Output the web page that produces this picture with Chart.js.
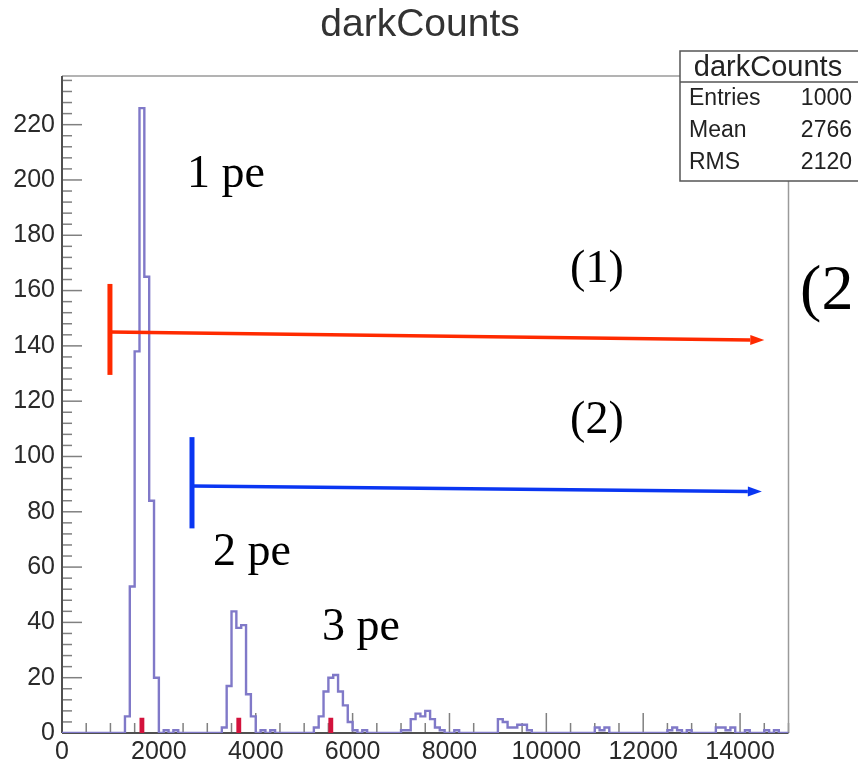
<!DOCTYPE html>
<html>
<head>
<meta charset="utf-8">
<title>darkCounts</title>
<script src="https://cdn.jsdelivr.net/npm/chart.js@4.4.1/dist/chart.umd.min.js"></script>
<style>
  html, body { margin: 0; padding: 0; background: #fff; }
  #wrap { width: 858px; height: 762px; }
</style>
</head>
<body>
<div id="wrap"><canvas id="grafico"></canvas></div>
<script>
// Histograma darkCounts: bins de 100 entre 0 y 15000
const binWidth = 100;
const xMin = 0, xMax = 15000;
const yMax = 237.6;

// Bins no vacíos (borde inferior) y sus cuentas
const binLow = [
  1300, 1400, 1500, 1600, 1700, 1800, 1900, 2100, 2300,
  3300, 3400, 3500, 3600, 3700, 3800, 3900, 4100, 4300,
  5200, 5300, 5400, 5500, 5600, 5700, 5800, 5900, 6000, 6200,
  7000, 7100, 7200, 7300, 7400, 7500, 7600, 7700, 7800, 8100,
  9000, 9100, 9200, 9300, 9400, 9500, 9600,
  11000, 11100, 11200, 12500, 12600, 12700, 12900,
  13500, 13600, 13700, 13800, 14100, 14500, 14700
];
const binCount = [
  6, 53, 138, 226, 165, 84, 20, 1, 1,
  2, 17, 44, 38, 39, 14, 6, 1, 1,
  2, 6, 15, 20, 21, 15, 10, 4, 1, 1,
  1, 1, 5, 7, 6, 8, 5, 2, 1, 1,
  5, 4, 2, 2, 3, 3, 1,
  2, 1, 2, 1, 2, 1, 1,
  2, 2, 1, 2, 1, 1, 1
];

// Marcas rojas (histograma relleno)
const redLow = [1600, 3600, 5500];
const redCount = [5.5, 5.5, 5.5];

// Etiquetas de los ejes
const xTicks = [0, 2000, 4000, 6000, 8000, 10000, 12000, 14000];
const yTicks = [0, 20, 40, 60, 80, 100, 120, 140, 160, 180, 200, 220];
const xMinorStep = 500;
const yMinorStep = 4;

// Caja de estadísticas
const statsTitle = "darkCounts";
const statsLabels = ["Entries", "Mean", "RMS"];
const statsValues = ["1000", "2766", "2120"];

// Anotaciones (en unidades de datos)
const textNotes = [
  { text: "1 pe", x: 2580, y: 197.5, size: 46 },
  { text: "(1)",  x: 10490, y: 163,  size: 46 },
  { text: "(2)",  x: 10490, y: 108.5, size: 46 },
  { text: "2 pe", x: 3120, y: 60.8,  size: 46 },
  { text: "3 pe", x: 5370, y: 33.6,  size: 46 },
  { text: "(2",   x: 15240, y: 153.5, size: 64 }
];
const arrowNotes = [
  { color: "#ff2a00", barX: 990,  barLo: 129.5, barHi: 162.4, yStart: 145,  xEnd: 14500, yEnd: 142.1 },
  { color: "#0a36f2", barX: 2684, barLo: 74,    barHi: 107,   yStart: 89.3, xEnd: 14450, yEnd: 87.3 }
];

// Construye los puntos del contorno escalonado
function histPoints(lows, counts) {
  const nBins = Math.round((xMax - xMin) / binWidth);
  const full = new Array(nBins).fill(0);
  lows.forEach((l, i) => { full[Math.round((l - xMin) / binWidth)] = counts[i]; });
  const pts = full.map((c, i) => ({ x: xMin + i * binWidth, y: c }));
  pts.push({ x: xMax, y: 0 });
  return pts;
}

function line(ctx, x0, y0, x1, y1) {
  ctx.beginPath(); ctx.moveTo(x0, y0); ctx.lineTo(x1, y1); ctx.stroke();
}

// Ejes al estilo ROOT: marcas hacia dentro y marco
const rootFrame = {
  id: "rootFrame",
  beforeDatasetsDraw(chart) {
    const { ctx, chartArea: a, scales: { x, y } } = chart;
    ctx.save();
    ctx.strokeStyle = "#808080";
    ctx.lineWidth = 1.5;
    for (let v = xMin; v <= xMax; v += xMinorStep) {
      const px = x.getPixelForValue(v);
      const len = v % 2000 === 0 ? 20 : 10;
      line(ctx, px, a.bottom, px, a.bottom - len);
    }
    for (let v = 0; v <= yMax; v += yMinorStep) {
      const py = y.getPixelForValue(v);
      const len = v % 20 === 0 ? 20 : 10;
      line(ctx, a.left, py, a.left + len, py);
    }
    ctx.strokeStyle = "#9a9a9a";
    ctx.lineWidth = 1.5;
    line(ctx, a.left, a.top, a.right, a.top);
    line(ctx, a.right, a.top, a.right, a.bottom);
    ctx.strokeStyle = "#505050";
    ctx.lineWidth = 2;
    line(ctx, a.left, a.top, a.left, a.bottom);
    line(ctx, a.left, a.bottom, a.right, a.bottom);
    ctx.restore();
  },
  afterDraw(chart) {
    const { ctx, scales: { x, y } } = chart;
    ctx.save();

    // Título
    ctx.fillStyle = "#333";
    ctx.font = '39px "Liberation Sans"';
    ctx.textAlign = "center";
    ctx.textBaseline = "alphabetic";
    ctx.fillText("darkCounts", 420, 36);

    // Flechas
    arrowNotes.forEach(n => {
      const bx = x.getPixelForValue(n.barX);
      const x1 = x.getPixelForValue(n.xEnd);
      const y0 = y.getPixelForValue(n.yStart);
      const y1 = y.getPixelForValue(n.yEnd);
      ctx.strokeStyle = n.color;
      ctx.fillStyle = n.color;
      ctx.lineWidth = 5;
      line(ctx, bx, y.getPixelForValue(n.barLo), bx, y.getPixelForValue(n.barHi));
      const ang = Math.atan2(y1 - y0, x1 - bx);
      const head = 14;
      ctx.lineWidth = 3.5;
      line(ctx, bx, y0, x1 - head * Math.cos(ang), y1 - head * Math.sin(ang));
      ctx.beginPath();
      ctx.moveTo(x1, y1);
      ctx.lineTo(x1 - head * Math.cos(ang) + 5 * Math.sin(ang), y1 - head * Math.sin(ang) - 5 * Math.cos(ang));
      ctx.lineTo(x1 - head * Math.cos(ang) - 5 * Math.sin(ang), y1 - head * Math.sin(ang) + 5 * Math.cos(ang));
      ctx.closePath();
      ctx.fill();
    });

    // Textos
    ctx.fillStyle = "#000";
    ctx.textAlign = "left";
    ctx.textBaseline = "alphabetic";
    textNotes.forEach(n => {
      ctx.font = n.size + 'px "Liberation Serif"';
      ctx.fillText(n.text, x.getPixelForValue(n.x), y.getPixelForValue(n.y));
    });

    // Caja de estadísticas
    const bx = 680, by = 51, bw = 200, bh = 130;
    ctx.fillStyle = "#fff";
    ctx.fillRect(bx, by, bw, bh);
    ctx.strokeStyle = "#555";
    ctx.lineWidth = 1.5;
    ctx.strokeRect(bx, by, bw, bh);
    line(ctx, bx, by + 31, bx + bw, by + 31);
    ctx.fillStyle = "#222";
    ctx.font = '29px "Liberation Sans"';
    ctx.textAlign = "center";
    ctx.textBaseline = "middle";
    ctx.fillText(statsTitle, 768, by + 17);
    ctx.font = '23px "Liberation Sans"';
    statsLabels.forEach((lab, i) => {
      const cy = 99 + i * 32;
      ctx.textAlign = "left";
      ctx.fillText(lab, 689, cy);
      ctx.textAlign = "right";
      ctx.fillText(statsValues[i], 852, cy);
    });
    ctx.restore();
  }
};

Chart.defaults.font.family = '"Liberation Sans", Arial, sans-serif';

new Chart(document.getElementById("grafico"), {
  type: "line",
  data: {
    datasets: [
      {
        label: "rojo",
        data: histPoints(redLow, redCount),
        stepped: true,
        fill: "origin",
        backgroundColor: "#d3123c",
        borderColor: "#b0102f",
        borderWidth: 0,
        pointRadius: 0
      },
      {
        label: "darkCounts",
        data: histPoints(binLow, binCount),
        stepped: true,
        fill: false,
        borderColor: "#8079c8",
        borderWidth: 2.4,
        pointRadius: 0
      }
    ]
  },
  options: {
    responsive: true,
    maintainAspectRatio: false,
    animation: false,
    layout: { padding: { left: 0, top: 76, right: 69.5, bottom: 0 } },
    plugins: { legend: { display: false }, tooltip: { enabled: false }, title: { display: false } },
    scales: {
      x: {
        type: "linear",
        min: xMin,
        max: xMax,
        grid: { display: false, drawTicks: false },
        border: { display: false },
        afterBuildTicks: s => { s.ticks = xTicks.map(v => ({ value: v })); },
        afterFit: s => { s.height = 29; },
        ticks: { font: { size: 25 }, color: "#2a2a2a", padding: 4, maxRotation: 0, autoSkip: false,
                 callback: v => String(v) }
      },
      y: {
        type: "linear",
        min: 0,
        max: yMax,
        grid: { display: false, drawTicks: false },
        border: { display: false },
        afterBuildTicks: s => { s.ticks = yTicks.map(v => ({ value: v })); },
        afterFit: s => { s.width = 62; },
        ticks: { font: { size: 25 }, color: "#2a2a2a", padding: 7, autoSkip: false,
                 callback: v => String(v) }
      }
    }
  },
  plugins: [rootFrame]
});
</script>
</body>
</html>
